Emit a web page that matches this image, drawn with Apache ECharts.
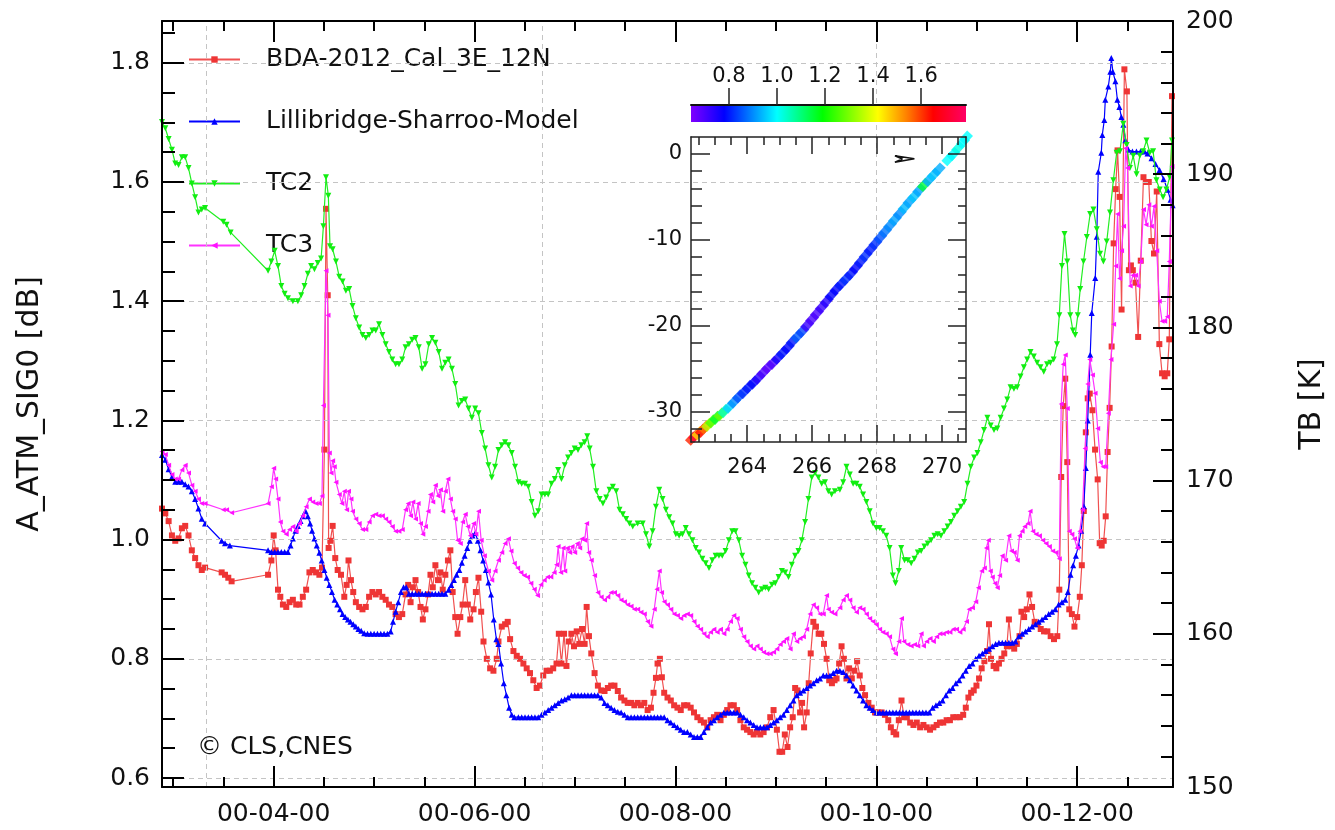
<!DOCTYPE html>
<html>
<head>
<meta charset="utf-8">
<script src="https://cdn.jsdelivr.net/npm/echarts@6/dist/echarts.min.js"></script>
<style>
  html, body { margin: 0; padding: 0; background: #ffffff; }
  #chart { width: 1335px; height: 830px; }
</style>
</head>
<body>
<div id="chart"></div>
<script>
// ---------------- axis ticks ----------------
const monthTicks = [4, 6, 8, 10, 12];
const monthMinorTicks = [3, 3.5, 4.5, 5, 5.5, 6.5, 7, 7.5, 8.5, 9, 9.5, 10.5, 11, 11.5, 12.5];
const sig0Ticks = [0.6, 0.8, 1.0, 1.2, 1.4, 1.6, 1.8];
const sig0MinorTicks = [0.65, 0.7, 0.75, 0.85, 0.9, 0.95, 1.05, 1.1, 1.15, 1.25, 1.3, 1.35, 1.45, 1.5, 1.55, 1.65, 1.7, 1.75, 1.85];
const verticalGridMonths = [3.333, 6.667, 10];
const insetXTicks = [264, 266, 268, 270];
const insetXMinorTicks = [262.5, 263, 263.5, 264.5, 265, 265.5, 266.5, 267, 267.5, 268.5, 269, 269.5, 270.5];
const insetYTicks = [-30, -20, -10, 0];
const insetYMinorTicks = [-32, -28, -26, -24, -22, -18, -16, -14, -12, -8, -6, -4, -2];
const colorbarTicks = [0.8, 1.0, 1.2, 1.4, 1.6];

// ---------------- series: [month, value] ----------------
const bdaData = [
[2.888,1.052],[2.921,1.044],[2.954,1.031],[2.987,1.007],[3.020,0.998],[3.053,1.002],[3.086,1.019],[3.119,1.023],[3.152,1.007],[3.185,0.982],[3.218,0.969],[3.251,0.957],[3.284,0.949],[3.317,0.953],[3.482,0.945],[3.515,0.941],[3.548,0.936],[3.581,0.930],[3.944,0.941],[3.977,0.965],[4.000,1.007],[4.019,0.982],[4.043,0.916],[4.066,0.904],[4.092,0.891],[4.125,0.887],[4.158,0.895],[4.191,0.899],[4.224,0.891],[4.257,0.891],[4.290,0.904],[4.323,0.916],[4.356,0.945],[4.389,0.949],[4.422,0.945],[4.455,0.941],[4.481,0.953],[4.505,1.151],[4.521,1.555],[4.538,1.410],[4.547,0.986],[4.564,0.998],[4.587,1.023],[4.613,0.969],[4.637,0.949],[4.670,0.941],[4.703,0.904],[4.726,0.924],[4.745,0.965],[4.769,0.932],[4.792,0.912],[4.818,0.895],[4.851,0.887],[4.884,0.883],[4.917,0.887],[4.950,0.904],[4.983,0.912],[5.016,0.908],[5.049,0.912],[5.082,0.904],[5.115,0.899],[5.148,0.891],[5.181,0.887],[5.214,0.875],[5.247,0.870],[5.280,0.875],[5.313,0.908],[5.339,0.924],[5.363,0.895],[5.386,0.920],[5.412,0.932],[5.438,0.912],[5.462,0.887],[5.485,0.866],[5.511,0.883],[5.537,0.908],[5.561,0.941],[5.584,0.920],[5.610,0.957],[5.636,0.932],[5.660,0.945],[5.683,0.916],[5.709,0.941],[5.735,0.965],[5.759,0.982],[5.782,0.912],[5.808,0.870],[5.831,0.842],[5.858,0.870],[5.881,0.891],[5.907,0.932],[5.933,0.891],[5.957,0.866],[5.990,0.883],[6.013,0.912],[6.039,0.936],[6.066,0.879],[6.089,0.829],[6.122,0.800],[6.155,0.784],[6.188,0.780],[6.221,0.800],
[6.238,0.829],[6.271,0.854],[6.304,0.858],[6.330,0.862],[6.354,0.833],[6.387,0.813],[6.420,0.805],[6.453,0.800],[6.486,0.792],[6.519,0.784],[6.552,0.776],[6.585,0.764],[6.618,0.751],[6.651,0.755],[6.684,0.772],[6.717,0.780],[6.750,0.780],[6.783,0.784],[6.816,0.792],[6.839,0.842],[6.865,0.792],[6.891,0.842],[6.915,0.788],[6.938,0.829],[6.964,0.842],[6.990,0.821],[7.017,0.846],[7.043,0.825],[7.070,0.850],[7.096,0.825],[7.116,0.887],[7.139,0.838],[7.162,0.809],[7.195,0.776],[7.228,0.755],[7.261,0.747],[7.294,0.746],[7.327,0.751],[7.360,0.755],[7.393,0.755],[7.426,0.746],[7.459,0.735],[7.492,0.730],[7.525,0.726],[7.558,0.726],[7.591,0.722],[7.624,0.726],[7.657,0.722],[7.690,0.726],[7.723,0.714],[7.756,0.718],[7.782,0.743],[7.806,0.768],[7.822,0.792],[7.845,0.800],[7.865,0.769],[7.888,0.743],[7.921,0.735],[7.954,0.730],[7.987,0.722],[8.020,0.718],[8.053,0.714],[8.086,0.722],[8.119,0.722],[8.152,0.718],[8.185,0.710],[8.218,0.702],[8.251,0.697],[8.284,0.693],[8.317,0.685],[8.350,0.697],[8.383,0.702],[8.416,0.706],[8.449,0.697],[8.482,0.706],[8.515,0.714],[8.548,0.722],[8.581,0.722],[8.614,0.714],[8.647,0.697],[8.680,0.685],[8.713,0.681],[8.746,0.677],[8.779,0.673],[8.812,0.677],[8.845,0.673],[8.878,0.677],[8.911,0.685],[8.944,0.702],[8.977,0.714],[9.010,0.681],[9.036,0.644],[9.063,0.644],[9.089,0.673],[9.116,0.652],[9.142,0.685],[9.168,0.702],[9.192,0.751],[9.215,0.747],[9.241,0.710],[9.261,0.726],[9.281,0.685],[9.307,0.710],[9.327,0.759],[9.347,0.809],[9.373,0.862],[9.399,0.854],[9.426,0.842],[9.452,0.842],[9.479,0.825],[9.505,0.800],[9.531,0.764],[9.558,0.759],[9.584,0.764],
[9.604,0.767],[9.630,0.792],[9.654,0.821],[9.677,0.800],[9.703,0.767],[9.729,0.784],[9.756,0.767],[9.782,0.780],[9.809,0.796],[9.835,0.772],[9.861,0.751],[9.888,0.739],[9.921,0.726],[9.954,0.718],[9.987,0.710],[10.020,0.710],[10.053,0.710],[10.086,0.706],[10.119,0.697],[10.145,0.685],[10.172,0.677],[10.198,0.673],[10.224,0.697],[10.251,0.730],[10.277,0.702],[10.304,0.702],[10.337,0.693],[10.370,0.689],[10.403,0.693],[10.436,0.685],[10.469,0.689],[10.502,0.685],[10.535,0.681],[10.568,0.685],[10.601,0.689],[10.634,0.693],[10.667,0.693],[10.700,0.697],[10.733,0.697],[10.766,0.702],[10.799,0.702],[10.832,0.702],[10.865,0.706],[10.891,0.718],[10.917,0.735],[10.944,0.743],[10.970,0.747],[10.997,0.755],[11.023,0.767],[11.049,0.784],[11.076,0.796],[11.102,0.813],[11.122,0.858],[11.142,0.800],[11.168,0.788],[11.195,0.784],[11.221,0.792],[11.247,0.800],[11.274,0.809],[11.300,0.821],[11.320,0.866],[11.346,0.821],[11.373,0.817],[11.399,0.825],[11.426,0.838],[11.445,0.879],[11.472,0.870],[11.498,0.883],[11.525,0.908],[11.551,0.887],[11.577,0.862],[11.604,0.858],[11.637,0.850],[11.670,0.846],[11.703,0.846],[11.736,0.838],[11.769,0.833],[11.802,0.838],[11.822,0.916],[11.841,1.105],[11.861,1.224],[11.881,1.270],[11.901,1.130],[11.921,0.883],[11.947,0.875],[11.973,0.854],[12.000,0.870],[12.026,0.904],[12.046,0.957],[12.066,1.048],[12.086,1.180],[12.105,1.237],[12.125,1.245],[12.152,1.217],[12.178,1.151],[12.204,1.101],[12.224,0.994],[12.244,0.990],[12.264,0.998],[12.284,1.039],[12.303,1.147],[12.323,1.221],[12.343,1.324],[12.363,1.497],[12.383,1.588],[12.402,1.653],[12.422,1.575],[12.442,1.386],[12.470,1.789],[12.495,1.752],[12.515,1.452],[12.535,1.460],[12.554,1.452],[12.581,1.431],[12.607,1.340],[12.633,1.468],[12.660,1.608],[12.686,1.600],[12.713,1.600],[12.739,1.501],[12.765,1.480],[12.792,1.584],[12.818,1.328],[12.845,1.279],[12.871,1.274],[12.897,1.279],[12.917,1.336],[12.944,1.744]
];

const lsmData = [
[2.888,1.142],[2.921,1.134],[2.954,1.118],[2.987,1.105],[3.020,1.097],[3.053,1.097],[3.086,1.097],[3.119,1.093],[3.152,1.089],[3.185,1.081],[3.218,1.068],[3.251,1.052],[3.284,1.035],[3.317,1.027],[3.482,0.998],[3.515,0.994],[3.564,0.990],[3.944,0.982],[3.977,0.979],[4.010,0.979],[4.043,0.979],[4.076,0.979],[4.109,0.979],[4.142,0.979],[4.168,0.990],[4.191,1.002],[4.217,1.015],[4.241,1.023],[4.267,1.031],[4.290,1.039],[4.316,1.048],[4.340,1.039],[4.363,1.027],[4.382,1.015],[4.406,1.002],[4.429,0.990],[4.455,0.978],[4.478,0.965],[4.505,0.949],[4.528,0.936],[4.554,0.924],[4.580,0.912],[4.607,0.899],[4.633,0.891],[4.660,0.883],[4.686,0.875],[4.712,0.870],[4.739,0.866],[4.765,0.862],[4.792,0.858],[4.818,0.854],[4.844,0.850],[4.871,0.847],[4.901,0.843],[4.934,0.842],[4.967,0.842],[5.000,0.842],[5.033,0.842],[5.066,0.842],[5.099,0.842],[5.132,0.842],[5.165,0.846],[5.188,0.862],[5.214,0.879],[5.240,0.895],[5.267,0.912],[5.293,0.920],[5.320,0.920],[5.346,0.909],[5.379,0.909],[5.412,0.909],[5.445,0.909],[5.478,0.909],[5.511,0.909],[5.544,0.909],[5.577,0.909],[5.610,0.909],[5.643,0.909],[5.676,0.909],[5.709,0.909],[5.742,0.916],[5.768,0.924],[5.795,0.932],[5.821,0.941],[5.848,0.949],[5.874,0.961],[5.901,0.973],[5.927,0.986],[5.953,0.998],[5.980,1.007],[6.006,1.011],[6.033,0.998],[6.059,0.982],[6.085,0.965],[6.112,0.949],[6.138,0.928],[6.164,0.908],[6.191,0.866],[6.217,0.833],
[6.238,0.825],[6.264,0.792],[6.291,0.759],[6.317,0.739],[6.344,0.718],[6.370,0.706],[6.396,0.702],[6.436,0.702],[6.469,0.702],[6.502,0.702],[6.535,0.702],[6.568,0.702],[6.601,0.702],[6.634,0.702],[6.667,0.706],[6.700,0.710],[6.733,0.714],[6.766,0.718],[6.799,0.722],[6.832,0.726],[6.865,0.730],[6.898,0.732],[6.931,0.735],[6.964,0.739],[6.997,0.739],[7.030,0.739],[7.063,0.739],[7.096,0.739],[7.129,0.739],[7.162,0.739],[7.195,0.739],[7.228,0.739],[7.261,0.735],[7.294,0.726],[7.327,0.722],[7.360,0.718],[7.393,0.714],[7.426,0.711],[7.459,0.710],[7.492,0.706],[7.525,0.702],[7.558,0.702],[7.591,0.702],[7.624,0.702],[7.657,0.702],[7.690,0.702],[7.723,0.702],[7.756,0.702],[7.789,0.702],[7.822,0.702],[7.855,0.702],[7.888,0.702],[7.921,0.697],[7.954,0.693],[7.987,0.689],[8.020,0.685],[8.053,0.681],[8.086,0.677],[8.119,0.677],[8.152,0.673],[8.185,0.669],[8.218,0.669],[8.251,0.669],[8.284,0.677],[8.317,0.685],[8.350,0.693],[8.383,0.697],[8.416,0.702],[8.449,0.706],[8.482,0.710],[8.515,0.710],[8.548,0.710],[8.581,0.710],[8.614,0.710],[8.647,0.706],[8.680,0.702],[8.713,0.697],[8.746,0.693],[8.779,0.689],[8.812,0.685],[8.845,0.685],[8.878,0.685],[8.911,0.685],[8.944,0.689],[8.977,0.693],[9.010,0.697],[9.043,0.702],[9.076,0.706],[9.109,0.714],[9.142,0.722],[9.175,0.730],[9.208,0.739],[9.241,0.743],[9.274,0.747],[9.307,0.751],[9.340,0.755],[9.373,0.759],[9.406,0.764],[9.439,0.767],[9.472,0.772],[9.505,0.772],[9.538,0.772],[9.571,0.776],[9.604,0.780],
[9.637,0.780],[9.670,0.778],[9.703,0.772],[9.736,0.764],[9.769,0.755],[9.802,0.747],[9.835,0.739],[9.868,0.730],[9.901,0.722],[9.934,0.718],[9.967,0.714],[10.000,0.710],[10.033,0.710],[10.066,0.710],[10.099,0.710],[10.132,0.710],[10.165,0.710],[10.198,0.710],[10.231,0.710],[10.264,0.710],[10.297,0.710],[10.330,0.710],[10.363,0.710],[10.396,0.710],[10.429,0.710],[10.462,0.710],[10.495,0.710],[10.528,0.710],[10.561,0.718],[10.594,0.722],[10.627,0.726],[10.660,0.730],[10.693,0.739],[10.726,0.747],[10.759,0.751],[10.792,0.759],[10.825,0.764],[10.858,0.772],[10.891,0.780],[10.924,0.788],[10.957,0.792],[10.990,0.800],[11.023,0.805],[11.056,0.809],[11.089,0.813],[11.122,0.817],[11.155,0.821],[11.188,0.825],[11.221,0.827],[11.254,0.827],[11.287,0.827],[11.320,0.827],[11.353,0.827],[11.386,0.829],[11.419,0.838],[11.452,0.842],[11.485,0.846],[11.518,0.850],[11.551,0.854],[11.584,0.858],[11.617,0.862],[11.650,0.866],[11.683,0.870],[11.716,0.875],[11.749,0.879],[11.782,0.883],[11.815,0.891],[11.848,0.895],[11.881,0.899],[11.907,0.912],[11.934,0.941],[11.960,0.957],[11.987,0.973],[12.013,0.990],[12.040,1.015],[12.066,1.056],[12.086,1.120],[12.105,1.200],[12.130,1.310],[12.145,1.380],[12.180,1.439],[12.195,1.508],[12.210,1.617],[12.240,1.649],[12.250,1.679],[12.270,1.704],[12.280,1.738],[12.310,1.760],[12.330,1.785],[12.340,1.808],[12.355,1.785],[12.380,1.769],[12.400,1.738],[12.420,1.726],[12.440,1.709],[12.460,1.696],[12.480,1.670],[12.510,1.654],[12.550,1.651],[12.590,1.651],[12.630,1.651],[12.670,1.651],[12.700,1.648],[12.740,1.640],[12.780,1.630],[12.820,1.620],[12.860,1.605],[12.900,1.587],[12.930,1.570],[12.950,1.561]
];

const tc2Data = [
[2.888,193.4],[2.921,193.0],[2.954,192.3],[2.987,191.6],[3.020,190.7],[3.053,190.6],[3.086,191.1],[3.119,191.1],[3.152,190.4],[3.185,189.4],[3.218,188.5],[3.251,187.5],[3.284,187.7],[3.317,187.8],[3.498,186.9],[3.531,186.7],[3.571,186.2],[3.944,183.7],[3.977,184.3],[4.010,185.0],[4.043,184.0],[4.076,182.7],[4.109,182.2],[4.142,181.9],[4.191,181.7],[4.241,181.7],[4.274,182.1],[4.307,182.7],[4.340,183.5],[4.373,184.0],[4.406,183.8],[4.439,184.2],[4.472,184.5],[4.495,186.6],[4.521,189.8],[4.544,188.6],[4.561,185.3],[4.587,185.1],[4.620,184.3],[4.653,183.3],[4.686,183.0],[4.719,182.4],[4.752,182.5],[4.785,181.4],[4.818,180.6],[4.851,180.0],[4.884,179.5],[4.917,179.3],[4.950,179.5],[4.983,179.8],[5.016,179.8],[5.049,180.2],[5.082,179.5],[5.115,178.9],[5.148,178.4],[5.181,177.9],[5.214,177.6],[5.247,177.6],[5.280,177.9],[5.313,178.7],[5.346,178.9],[5.379,179.2],[5.412,179.3],[5.445,178.7],[5.478,177.3],[5.511,177.6],[5.544,178.9],[5.577,179.3],[5.610,179.0],[5.643,178.4],[5.676,177.3],[5.709,177.7],[5.742,177.9],[5.775,177.3],[5.808,176.3],[5.841,174.9],[5.874,175.2],[5.907,175.3],[5.940,174.7],[5.973,174.1],[6.006,174.7],[6.039,174.4],[6.072,173.1],[6.105,172.1],[6.138,171.0],[6.171,170.2],[6.204,170.9],
[6.238,172.0],[6.271,172.3],[6.304,172.5],[6.337,172.3],[6.370,171.8],[6.403,170.9],[6.436,169.9],[6.469,169.8],[6.502,169.8],[6.535,169.6],[6.568,168.6],[6.601,167.7],[6.634,168.0],[6.667,169.1],[6.700,169.1],[6.733,169.1],[6.766,169.8],[6.799,170.1],[6.832,170.7],[6.865,170.1],[6.898,171.0],[6.931,171.5],[6.964,171.8],[6.997,172.1],[7.030,172.0],[7.063,172.3],[7.096,172.5],[7.122,172.9],[7.146,172.1],[7.179,170.9],[7.212,169.3],[7.245,168.8],[7.278,168.5],[7.311,168.9],[7.344,169.4],[7.377,169.6],[7.410,169.3],[7.443,168.1],[7.476,167.8],[7.509,167.5],[7.542,167.2],[7.575,167.0],[7.624,167.2],[7.674,167.2],[7.707,166.5],[7.740,165.7],[7.773,166.7],[7.806,168.3],[7.839,169.4],[7.872,168.8],[7.905,168.1],[7.938,167.6],[7.971,167.2],[8.004,166.5],[8.037,166.4],[8.070,166.5],[8.103,166.9],[8.136,166.5],[8.169,166.1],[8.202,165.6],[8.235,165.3],[8.268,164.9],[8.301,164.6],[8.334,164.3],[8.367,164.8],[8.400,165.1],[8.433,165.1],[8.466,165.1],[8.499,165.4],[8.532,166.1],[8.565,166.7],[8.598,166.7],[8.631,166.1],[8.664,165.1],[8.697,164.5],[8.730,163.8],[8.763,163.3],[8.796,163.0],[8.829,162.7],[8.862,162.9],[8.895,163.0],[8.928,162.9],[8.961,163.2],[8.994,163.3],[9.027,163.7],[9.060,164.1],[9.093,164.0],[9.126,163.7],[9.159,164.5],[9.192,165.1],[9.225,165.4],[9.258,166.1],[9.291,167.3],[9.324,168.8],[9.357,170.2],[9.390,170.5],[9.423,170.2],[9.456,169.8],[9.489,169.9],[9.522,169.3],[9.555,169.1],[9.588,169.3],
[9.637,169.4],[9.670,169.9],[9.703,170.9],[9.736,170.4],[9.769,169.8],[9.802,169.8],[9.835,169.6],[9.868,169.1],[9.901,168.6],[9.934,168.0],[9.967,167.2],[10.000,166.9],[10.033,166.9],[10.066,166.7],[10.099,166.4],[10.132,165.6],[10.165,163.8],[10.191,163.3],[10.224,164.1],[10.248,165.6],[10.281,164.8],[10.314,164.8],[10.347,164.6],[10.380,164.9],[10.413,165.3],[10.446,165.4],[10.479,165.7],[10.512,165.9],[10.545,166.1],[10.578,166.4],[10.611,166.5],[10.644,166.4],[10.677,166.7],[10.710,167.0],[10.743,167.3],[10.776,167.7],[10.809,168.0],[10.842,168.3],[10.875,168.6],[10.908,169.8],[10.941,170.9],[10.974,171.5],[11.007,171.8],[11.040,172.5],[11.073,173.3],[11.106,174.1],[11.139,173.6],[11.172,173.3],[11.205,173.4],[11.238,174.1],[11.271,174.7],[11.304,175.3],[11.337,176.1],[11.370,176.0],[11.403,176.1],[11.436,176.8],[11.469,177.4],[11.502,177.9],[11.535,178.4],[11.568,178.1],[11.601,177.7],[11.634,177.4],[11.667,177.1],[11.700,177.6],[11.733,177.7],[11.766,177.9],[11.799,178.9],[11.822,180.8],[11.848,184.0],[11.874,186.1],[11.901,184.3],[11.931,180.8],[11.957,179.8],[11.980,179.5],[12.006,180.8],[12.030,182.5],[12.063,184.3],[12.096,185.9],[12.129,187.4],[12.162,187.7],[12.195,186.4],[12.228,184.8],[12.261,184.3],[12.294,185.6],[12.327,187.5],[12.360,189.6],[12.393,191.4],[12.426,191.5],[12.459,193.3],[12.492,191.9],[12.525,190.4],[12.558,191.2],[12.591,190.0],[12.624,191.2],[12.657,191.5],[12.690,192.2],[12.723,191.4],[12.756,191.5],[12.789,189.6],[12.822,189.0],[12.855,188.5],[12.888,189.0],[12.921,189.8],[12.944,192.2]
];

const tc3Data = [
[2.888,171.9],[2.921,171.7],[2.954,171.0],[2.987,170.4],[3.020,170.1],[3.053,170.1],[3.086,170.7],[3.119,171.0],[3.152,170.5],[3.185,169.7],[3.218,169.3],[3.251,168.8],[3.284,168.5],[3.317,168.5],[3.498,168.1],[3.531,168.1],[3.581,167.9],[3.944,168.5],[3.977,169.6],[4.000,170.8],[4.019,170.1],[4.043,168.8],[4.066,167.3],[4.092,166.7],[4.125,166.5],[4.158,166.8],[4.191,167.0],[4.224,166.7],[4.257,167.2],[4.290,167.7],[4.323,168.3],[4.356,168.8],[4.389,168.6],[4.422,168.5],[4.455,168.5],[4.481,169.0],[4.495,174.9],[4.521,183.7],[4.541,180.8],[4.554,171.8],[4.571,170.5],[4.587,171.3],[4.603,170.9],[4.620,169.9],[4.653,169.1],[4.679,168.5],[4.703,169.3],[4.726,168.1],[4.745,169.3],[4.769,168.8],[4.785,168.0],[4.818,167.5],[4.851,167.2],[4.884,166.8],[4.917,166.8],[4.950,167.3],[4.983,167.7],[5.016,167.8],[5.049,167.7],[5.082,167.7],[5.115,167.5],[5.148,167.3],[5.181,167.0],[5.214,166.7],[5.247,166.7],[5.280,166.8],[5.313,168.1],[5.339,168.5],[5.363,167.7],[5.386,168.6],[5.412,167.5],[5.438,168.5],[5.462,167.2],[5.485,166.5],[5.511,167.0],[5.537,168.0],[5.561,169.1],[5.584,168.6],[5.610,169.7],[5.636,169.0],[5.660,169.4],[5.683,168.0],[5.709,169.3],[5.735,170.1],[5.759,168.8],[5.782,168.0],[5.808,167.5],[5.831,166.1],[5.858,165.9],[5.881,167.3],[5.907,167.8],[5.933,167.0],[5.957,166.4],[5.990,167.2],[6.013,166.5],[6.039,168.0],[6.066,166.1],[6.098,165.1],[6.138,164.1],[6.171,163.5],[6.204,164.1],
[6.238,164.8],[6.271,165.3],[6.304,165.9],[6.337,166.2],[6.363,165.4],[6.396,164.6],[6.429,164.3],[6.462,164.0],[6.495,163.8],[6.528,163.7],[6.561,163.3],[6.594,162.9],[6.627,162.5],[6.660,163.2],[6.693,163.5],[6.726,163.7],[6.759,163.7],[6.792,164.0],[6.816,164.5],[6.832,165.7],[6.858,164.0],[6.882,165.6],[6.898,164.1],[6.924,165.6],[6.948,165.3],[6.971,165.7],[6.997,165.3],[7.023,165.9],[7.047,165.6],[7.070,166.2],[7.096,166.1],[7.116,167.2],[7.136,165.3],[7.162,164.8],[7.195,163.8],[7.228,162.7],[7.261,162.4],[7.294,162.2],[7.327,162.4],[7.360,162.7],[7.393,162.7],[7.426,162.5],[7.459,162.2],[7.492,162.1],[7.525,161.9],[7.558,161.8],[7.591,161.6],[7.624,161.6],[7.657,161.4],[7.690,161.3],[7.723,160.8],[7.756,160.5],[7.789,161.6],[7.815,162.9],[7.839,164.1],[7.862,162.7],[7.888,162.1],[7.921,161.9],[7.954,161.6],[7.987,161.3],[8.020,161.2],[8.053,161.0],[8.086,161.2],[8.119,161.3],[8.152,161.2],[8.185,160.8],[8.218,160.5],[8.251,160.3],[8.284,160.0],[8.317,159.8],[8.350,160.1],[8.383,160.3],[8.416,160.1],[8.449,160.3],[8.482,160.0],[8.515,160.3],[8.548,160.8],[8.581,161.2],[8.614,161.0],[8.647,160.3],[8.680,159.8],[8.713,159.5],[8.746,159.2],[8.779,159.0],[8.812,159.2],[8.845,159.0],[8.878,158.8],[8.911,158.7],[8.944,158.7],[8.977,158.8],[9.010,159.0],[9.043,159.3],[9.076,159.5],[9.109,159.7],[9.142,159.0],[9.175,160.0],[9.208,159.5],[9.241,159.7],[9.274,159.8],[9.307,160.3],[9.340,161.3],[9.373,161.9],[9.406,161.7],[9.439,161.3],[9.472,161.3],[9.505,162.5],[9.522,161.6],[9.555,161.4],[9.588,161.3],
[9.637,161.7],[9.670,162.2],[9.703,162.5],[9.736,162.2],[9.769,161.7],[9.802,161.4],[9.835,161.7],[9.868,161.6],[9.901,161.3],[9.934,161.0],[9.967,160.8],[10.000,160.6],[10.033,160.3],[10.066,160.1],[10.099,160.0],[10.132,159.8],[10.165,159.0],[10.191,158.7],[10.224,159.5],[10.251,161.0],[10.274,159.5],[10.314,159.3],[10.347,159.2],[10.380,159.3],[10.413,159.2],[10.446,160.0],[10.469,159.2],[10.502,159.5],[10.535,159.7],[10.568,159.5],[10.601,159.8],[10.634,160.0],[10.667,160.0],[10.700,160.1],[10.733,160.1],[10.766,160.3],[10.799,160.3],[10.832,160.1],[10.865,160.3],[10.898,160.8],[10.924,161.6],[10.957,161.7],[10.990,162.1],[11.016,163.0],[11.049,164.1],[11.076,164.3],[11.096,165.6],[11.115,166.1],[11.135,164.1],[11.155,163.7],[11.181,163.3],[11.205,163.0],[11.228,163.8],[11.254,165.1],[11.287,164.8],[11.320,166.4],[11.346,165.4],[11.373,165.3],[11.403,164.8],[11.426,166.4],[11.452,166.7],[11.478,167.0],[11.511,167.2],[11.531,168.0],[11.558,166.7],[11.591,166.5],[11.624,166.4],[11.657,166.1],[11.690,165.9],[11.723,165.7],[11.756,165.4],[11.789,165.3],[11.822,164.9],[11.841,175.0],[11.861,177.6],[11.881,178.2],[11.901,174.7],[11.921,166.7],[11.947,166.5],[11.973,166.2],[12.000,165.6],[12.026,166.7],[12.053,168.1],[12.079,172.1],[12.105,176.3],[12.125,177.9],[12.152,176.9],[12.178,175.7],[12.204,173.4],[12.231,171.2],[12.257,170.9],[12.284,170.9],[12.310,174.4],[12.336,177.9],[12.363,180.2],[12.383,184.0],[12.402,187.4],[12.422,183.2],[12.442,185.0],[12.462,186.6],[12.482,191.7],[12.501,190.4],[12.528,182.7],[12.554,183.4],[12.581,183.4],[12.607,182.7],[12.633,184.3],[12.660,187.7],[12.686,186.7],[12.713,188.0],[12.739,186.6],[12.765,187.9],[12.792,185.0],[12.818,181.7],[12.845,180.4],[12.871,180.4],[12.897,180.7],[12.917,184.3],[12.944,190.5]
];

// ---------------- inset scatter: [x, y, colour value] ----------------
const insetPoints = [
[262.30,-33.1,1.62],[262.40,-32.8,1.72],[262.50,-32.5,1.45],[262.60,-32.2,1.66],[262.70,-31.8,1.55],[262.80,-31.5,1.36],[262.92,-31.1,1.26],[263.05,-30.7,1.16],[263.18,-30.3,1.28],[263.30,-29.9,1.05],[263.45,-29.4,0.96],[263.60,-28.8,0.90],[263.75,-28.2,0.85],[263.90,-27.7,0.82],[264.05,-27.1,0.80],[264.20,-26.6,0.78],[264.35,-26.0,0.74],[264.50,-25.4,0.70],[264.65,-24.8,0.68],[264.80,-24.3,0.70],[264.95,-23.7,0.76],[265.10,-23.1,0.80],[265.25,-22.5,0.78],[265.40,-21.8,0.80],[265.55,-21.2,0.86],[265.70,-20.6,0.84],[265.85,-19.9,0.72],[266.00,-19.2,0.70],[266.15,-18.5,0.70],[266.30,-17.8,0.72],[266.45,-17.1,0.74],[266.60,-16.4,0.78],[266.75,-15.7,0.78],[266.90,-15.1,0.80],[267.05,-14.5,0.82],[267.20,-13.9,0.80],[267.35,-13.2,0.78],[267.50,-12.5,0.80],[267.65,-11.8,0.82],[267.80,-11.1,0.80],[267.95,-10.4,0.82],[268.10,-9.7,0.85],[268.25,-9.0,0.88],[268.40,-8.3,0.90],[268.55,-7.6,0.92],[268.70,-6.9,0.90],[268.85,-6.2,0.94],[269.00,-5.5,0.92],[269.15,-4.9,0.95],[269.30,-4.2,0.92],[269.45,-3.6,1.15],[269.60,-3.0,0.93],[269.75,-2.4,0.95],[269.90,-1.8,0.93],
[270.20,-0.6,1.00],[270.35,0.0,1.00],[270.50,0.7,1.02],[270.65,1.4,1.00],[270.74,1.9,1.00]
];
const insetGlyph = [[268.55,-0.2],[269.15,-0.55],[268.55,-0.95],[268.78,-0.58],[268.55,-0.2]];

// colour scale used by the inset points and the colour bar
const colorStops = [
  [0.642, '#8000ff'], [0.78, '#0000ff'], [1.0, '#00ffff'], [1.19, '#00ff00'],
  [1.42, '#ffff00'], [1.54, '#ff8000'], [1.65, '#ff0000'], [1.787, '#ff0066']
];

// ---------------- helpers ----------------
const X_MIN = 2.888, X_MAX = 12.954;
const Y_MIN = 0.5849, Y_MAX = 1.8701;
const CB_MIN = 0.642, CB_MAX = 1.787;
const FONT = 'DejaVu Sans';
const INK = '#111111';

function hexToRgb(h) {
  return [parseInt(h.slice(1, 3), 16), parseInt(h.slice(3, 5), 16), parseInt(h.slice(5, 7), 16)];
}
function colorFor(v) {
  if (v <= colorStops[0][0]) return colorStops[0][1];
  for (let i = 1; i < colorStops.length; i++) {
    if (v <= colorStops[i][0]) {
      const t = (v - colorStops[i - 1][0]) / (colorStops[i][0] - colorStops[i - 1][0]);
      const a = hexToRgb(colorStops[i - 1][1]), b = hexToRgb(colorStops[i][1]);
      const c = a.map((x, k) => Math.round(x + (b[k] - x) * t));
      return 'rgb(' + c.join(',') + ')';
    }
  }
  return colorStops[colorStops.length - 1][1];
}
const gradientStops = colorStops.map(s => ({ offset: (s[0] - CB_MIN) / (CB_MAX - CB_MIN), color: s[1] }));

const monthLabel = v => '00-' + String(Math.round(v)).padStart(2, '0') + '-00';

function frameLine(color, width) {
  return { show: true, onZero: false, lineStyle: { color: color, width: width } };
}
function tickAxis(extra) {
  // axis that only contributes tick marks (no labels, no split lines)
  return Object.assign({
    type: 'value', axisLabel: { show: false }, splitLine: { show: false },
    axisLine: { show: false, onZero: false }, z: 10
  }, extra);
}

// ---------------- chart ----------------
const chart = echarts.init(document.getElementById('chart'), null, { renderer: 'canvas' });

const option = {
  animation: false,
  backgroundColor: '#ffffff',
  textStyle: { fontFamily: FONT, color: INK },
  grid: [
    { left: 162, top: 21, width: 1016, height: 766 },
    { left: 691, top: 137, width: 275, height: 305 },
    { left: 691, top: 105, width: 275, height: 17 }
  ],
  legend: {
    data: ['BDA-2012_Cal_3E_12N', 'Lillibridge-Sharroo-Model', 'TC2', 'TC3'],
    orient: 'vertical', left: 183, top: 42,
    itemWidth: 51, itemHeight: 8, itemGap: 37,
    selectedMode: false,
    textStyle: { fontSize: 25, color: INK, fontFamily: FONT, padding: [0, 0, 0, 21] }
  },
  xAxis: [
    // main chart: bottom labels + major ticks
    { type: 'value', gridIndex: 0, min: X_MIN, max: X_MAX, position: 'bottom', z: 10,
      axisLine: frameLine('#000', 2), splitLine: { show: false },
      axisTick: { show: true, inside: true, length: 21, customValues: monthTicks, lineStyle: { color: '#000', width: 2 } },
      axisLabel: { customValues: monthTicks, formatter: monthLabel, fontSize: 25, color: INK, fontFamily: FONT, margin: 15 } },
    tickAxis({ gridIndex: 0, min: X_MIN, max: X_MAX, position: 'bottom',
      axisTick: { show: true, inside: true, length: 10, customValues: monthMinorTicks, lineStyle: { color: '#000', width: 2 } } }),
    tickAxis({ gridIndex: 0, min: X_MIN, max: X_MAX, position: 'top', axisLine: frameLine('#000', 2),
      axisTick: { show: true, inside: true, length: 21, customValues: monthTicks, lineStyle: { color: '#000', width: 2 } } }),
    tickAxis({ gridIndex: 0, min: X_MIN, max: X_MAX, position: 'top',
      axisTick: { show: true, inside: true, length: 10, customValues: monthMinorTicks, lineStyle: { color: '#000', width: 2 } } }),
    // inset
    { type: 'value', gridIndex: 1, min: 262.27, max: 270.74, position: 'bottom', z: 10,
      axisLine: frameLine('#222', 1.5), splitLine: { show: false },
      axisTick: { show: true, inside: true, length: 17, customValues: insetXTicks, lineStyle: { color: '#222', width: 1.5 } },
      axisLabel: { customValues: insetXTicks, fontSize: 21, color: INK, fontFamily: FONT, margin: 15 } },
    tickAxis({ gridIndex: 1, min: 262.27, max: 270.74, position: 'bottom',
      axisTick: { show: true, inside: true, length: 8, customValues: insetXMinorTicks, lineStyle: { color: '#222', width: 1.5 } } }),
    tickAxis({ gridIndex: 1, min: 262.27, max: 270.74, position: 'top', axisLine: frameLine('#222', 1.5),
      axisTick: { show: true, inside: true, length: 17, customValues: insetXTicks, lineStyle: { color: '#222', width: 1.5 } } }),
    tickAxis({ gridIndex: 1, min: 262.27, max: 270.74, position: 'top',
      axisTick: { show: true, inside: true, length: 8, customValues: insetXMinorTicks, lineStyle: { color: '#222', width: 1.5 } } }),
    // colour bar scale
    { type: 'value', gridIndex: 2, min: CB_MIN, max: CB_MAX, position: 'top', z: 10,
      axisLine: frameLine('#111', 2), splitLine: { show: false },
      axisTick: { show: true, inside: false, length: 17, customValues: colorbarTicks, lineStyle: { color: '#222', width: 1.5 } },
      axisLabel: { customValues: colorbarTicks, formatter: v => v.toFixed(1), fontSize: 21, color: INK, fontFamily: FONT, margin: 18 } }
  ],
  yAxis: [
    // main left axis
    { type: 'value', gridIndex: 0, min: Y_MIN, max: Y_MAX, position: 'left', z: 10,
      axisLine: frameLine('#000', 2), splitLine: { show: false },
      axisTick: { show: true, inside: true, length: 22, customValues: sig0Ticks, lineStyle: { color: '#000', width: 2 } },
      axisLabel: { customValues: sig0Ticks, formatter: v => v.toFixed(1), fontSize: 25, color: INK, fontFamily: FONT, margin: 12 },
      name: 'A_ATM_SIG0 [dB]', nameLocation: 'middle', nameGap: 117, nameRotate: 90,
      nameTextStyle: { fontSize: 30, color: INK, fontFamily: FONT } },
    tickAxis({ gridIndex: 0, min: Y_MIN, max: Y_MAX, position: 'left',
      axisTick: { show: true, inside: true, length: 13, customValues: sig0MinorTicks, lineStyle: { color: '#000', width: 2 } } }),
    // main right axis
    { type: 'value', gridIndex: 0, min: 150, max: 200, interval: 10, position: 'right', z: 10,
      axisLine: frameLine('#000', 2), splitLine: { show: false },
      axisTick: { show: true, inside: true, length: 20, lineStyle: { color: '#000', width: 2 } },
      minorTick: { show: true, splitNumber: 5, length: 12, lineStyle: { color: '#000', width: 2 } },
      axisLabel: { fontSize: 25, color: INK, fontFamily: FONT, margin: 13 },
      name: 'TB [K]', nameLocation: 'middle', nameGap: 124, nameRotate: 90,
      nameTextStyle: { fontSize: 30, color: INK, fontFamily: FONT } },
    // inset axes
    { type: 'value', gridIndex: 1, min: -33.5, max: 1.98, position: 'left', z: 10,
      axisLine: frameLine('#222', 1.5), splitLine: { show: false },
      axisTick: { show: true, inside: true, length: 19, customValues: insetYTicks, lineStyle: { color: '#222', width: 1.5 } },
      axisLabel: { customValues: insetYTicks, fontSize: 21, color: INK, fontFamily: FONT, margin: 9 } },
    tickAxis({ gridIndex: 1, min: -33.5, max: 1.98, position: 'left',
      axisTick: { show: true, inside: true, length: 11, customValues: insetYMinorTicks, lineStyle: { color: '#222', width: 1.5 } } }),
    tickAxis({ gridIndex: 1, min: -33.5, max: 1.98, position: 'right', axisLine: frameLine('#222', 1.5),
      axisTick: { show: true, inside: true, length: 18, customValues: insetYTicks, lineStyle: { color: '#222', width: 1.5 } } }),
    tickAxis({ gridIndex: 1, min: -33.5, max: 1.98, position: 'right',
      axisTick: { show: true, inside: true, length: 8, customValues: insetYMinorTicks, lineStyle: { color: '#222', width: 1.5 } } }),
    // colour bar
    { type: 'value', gridIndex: 2, min: 0, max: 1, show: false }
  ],
  graphic: [
    { type: 'text', left: 197, top: 735, z: 20,
      style: { text: '\u00a9 CLS,CNES', font: '25px "DejaVu Sans"', fill: INK } }
  ],
  series: [
    // dashed reference grid
    { type: 'line', name: 'grid', xAxisIndex: 0, yAxisIndex: 0, data: [], z: 1, silent: true,
      markLine: {
        silent: true, symbol: ['none', 'none'], label: { show: false },
        lineStyle: { color: '#c4c4c4', type: [5, 4], width: 1 },
        data: verticalGridMonths.map(m => ({ xAxis: m })).concat(sig0Ticks.map(v => ({ yAxis: v })))
      } },
    { type: 'line', name: 'BDA-2012_Cal_3E_12N', xAxisIndex: 0, yAxisIndex: 0, data: bdaData, z: 3,
      symbol: 'rect', symbolSize: 6, showSymbol: true,
      itemStyle: { color: '#ee3535' }, lineStyle: { color: '#f05050', width: 1.2 } },
    { type: 'line', name: 'Lillibridge-Sharroo-Model', xAxisIndex: 0, yAxisIndex: 0, data: lsmData, z: 4,
      symbol: 'triangle', symbolSize: 6, showSymbol: true,
      itemStyle: { color: '#0000ff' }, lineStyle: { color: '#0000ff', width: 1.2 } },
    { type: 'line', name: 'TC2', xAxisIndex: 0, yAxisIndex: 2, data: tc2Data, z: 5,
      symbol: 'triangle', symbolRotate: 180, symbolSize: 6, showSymbol: true,
      itemStyle: { color: '#11ee11' }, lineStyle: { color: '#22ee22', width: 1.2 } },
    { type: 'line', name: 'TC3', xAxisIndex: 0, yAxisIndex: 2, data: tc3Data, z: 6,
      symbol: 'triangle', symbolRotate: 90, symbolSize: 5, showSymbol: true,
      itemStyle: { color: '#ff11ff' }, lineStyle: { color: '#ff33ff', width: 1.2 } },
    // inset
    { type: 'scatter', name: 'inset', xAxisIndex: 4, yAxisIndex: 3, data: insetPoints, z: 7,
      symbol: 'rect', symbolSize: [12, 8], symbolRotate: 47,
      itemStyle: { color: p => colorFor(p.data[2]) } },
    { type: 'line', name: 'glyph', xAxisIndex: 4, yAxisIndex: 3, data: insetGlyph, z: 7,
      showSymbol: false, lineStyle: { color: '#111', width: 1.6 } },
    // colour bar
    { type: 'custom', name: 'colorbar', xAxisIndex: 8, yAxisIndex: 7, data: [[CB_MIN, 0]], z: 7,
      renderItem: (params, api) => {
        const a = api.coord([CB_MIN, 0]);
        const b = api.coord([CB_MAX, 1]);
        return {
          type: 'rect',
          shape: { x: a[0], y: b[1], width: b[0] - a[0], height: a[1] - b[1] },
          style: { fill: new echarts.graphic.LinearGradient(0, 0, 1, 0, gradientStops) }
        };
      } }
  ]
};

chart.setOption(option);
</script>
</body>
</html>
